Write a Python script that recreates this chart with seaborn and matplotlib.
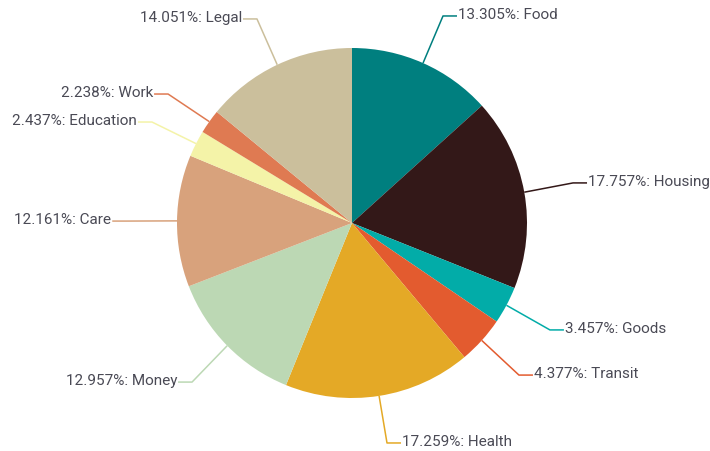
import numpy as np
import matplotlib.pyplot as plt
import seaborn as sns

categories = ['Food', 'Housing', 'Goods', 'Transit', 'Health',
              'Money', 'Care', 'Education', 'Work', 'Legal']
shares = [13.305, 17.757, 3.457, 4.377, 17.259,
          12.957, 12.161, 2.437, 2.238, 14.051]
colors = ['#007f7f', '#331818', '#02aca8', '#e35b2f', '#e4a926',
          '#bcd8b4', '#d8a27c', '#f4f3a8', '#df7a52', '#cbbf9c']

# elbow of each leader line (pie radius = 1), chosen to keep labels apart
elbows = {
    'Food': (0.52, 1.183), 'Housing': (1.263, 0.229), 'Goods': (1.131, -0.611),
    'Transit': (0.954, -0.869), 'Health': (0.20, -1.257), 'Money': (-0.914, -0.909),
    'Care': (-1.29, 0.011), 'Education': (-1.143, 0.577), 'Work': (-1.051, 0.737),
    'Legal': (-0.543, 1.166),
}

sns.set_theme(style='white')
plt.rcParams['font.family'] = ['Roboto', 'DejaVu Sans']

W, H = 710, 452
cx, cy, R = 352, 224, 175
fig = plt.figure(figsize=(W / 100, H / 100), dpi=100)
ax = fig.add_axes([0, 0, 1, 1])

wedges, _ = ax.pie(shares, colors=colors, startangle=90, counterclock=False,
                   radius=1, wedgeprops=dict(linewidth=0))
ax.set_xlim(-cx / R, (W - cx) / R)
ax.set_ylim(-(H - cy) / R, cy / R)
ax.set_aspect('auto')
ax.axis('off')

for w, name, val, col in zip(wedges, categories, shares, colors):
    ang = np.deg2rad((w.theta1 + w.theta2) / 2)
    x0, y0 = np.cos(ang), np.sin(ang)
    ex, ey = elbows[name]
    side = 1 if ex > 0 else -1
    x2 = ex + side * 0.08
    ax.plot([x0, ex, x2], [y0, ey, ey], color=col, lw=1.1, solid_capstyle='butt')
    ax.text(x2 + side * 0.005, ey - 0.01, f'{val:.3f}%: {name}',
            ha='left' if side > 0 else 'right',
            va='baseline', fontsize=11, color='#4a4a55')

fig.savefig('out.png', dpi=100)
